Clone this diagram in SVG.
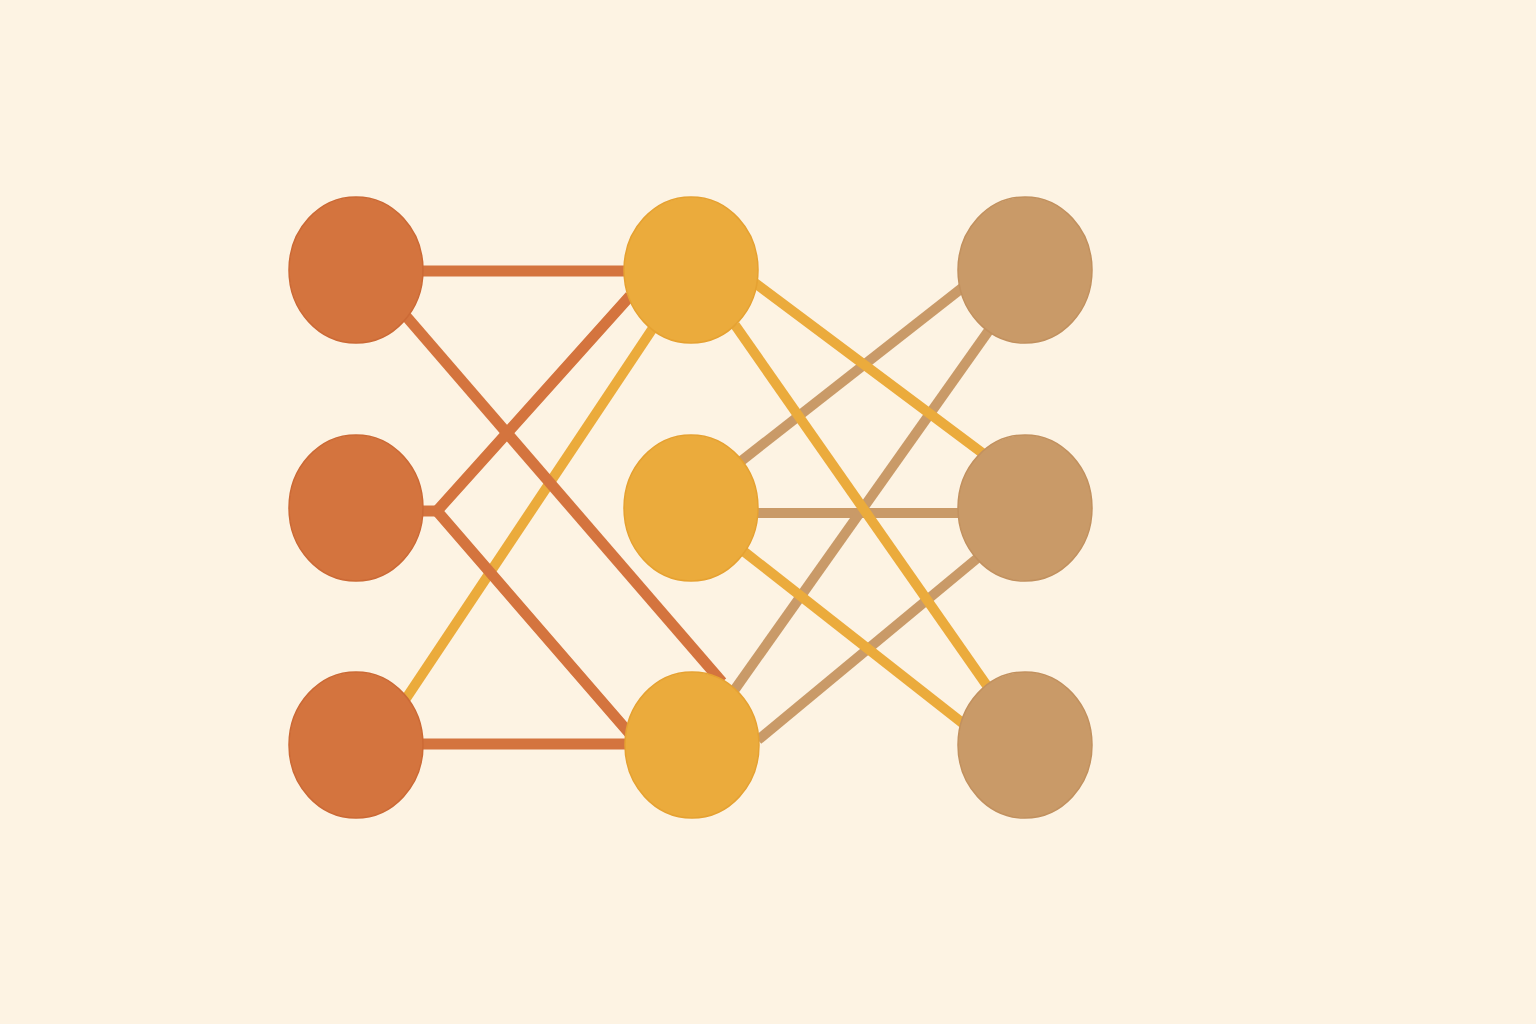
<svg xmlns="http://www.w3.org/2000/svg" width="1536" height="1024" viewBox="0 0 1536 1024">
<style>
.bg{fill:#FDF3E3}
.c line,.c polyline{fill:none;stroke-linecap:butt;stroke-linejoin:miter}
.o{stroke:#D4743E;stroke-width:11}
.y{stroke:#EBAB3C;stroke-width:10}
.t{stroke:#C99A68;stroke-width:10}
.no{fill:#D4743E;stroke:#CC6A36;stroke-width:1.5}
.ny{fill:#EBAB3C;stroke:#E6A232;stroke-width:1.5}
.nt{fill:#C99A68;stroke:#C2915F;stroke-width:1.5}
</style>
<rect class="bg" x="0" y="0" width="1536" height="1024"/>
<g id="connectors" class="c">
<line class="t" x1="740" y1="462" x2="962" y2="288"/>
<line class="t" x1="758" y1="513" x2="960" y2="513"/>
<line class="t" x1="733" y1="692" x2="992" y2="326"/>
<line class="t" x1="758" y1="740" x2="980" y2="556"/>
<line class="y" x1="655" y1="325" x2="405" y2="700"/>
<line class="y" x1="755" y1="283" x2="985" y2="455"/>
<line class="y" x1="735" y1="325" x2="990" y2="690"/>
<line class="y" x1="742" y1="550" x2="965" y2="725"/>
<line class="o" x1="420" y1="271" x2="628" y2="271"/>
<line class="o" x1="405" y1="315" x2="722" y2="682"/>
<polyline class="o" points="630,296 437,511 630,734"/>
<line class="o" x1="420" y1="511" x2="437" y2="511"/>
<line class="o" x1="420" y1="744" x2="628" y2="744"/>
</g>
<g id="L1"><ellipse class="no" cx="356" cy="270" rx="67" ry="73"/></g>
<g id="L2"><ellipse class="no" cx="356" cy="508" rx="67" ry="73"/></g>
<g id="L3"><ellipse class="no" cx="356" cy="745" rx="67" ry="73"/></g>
<g id="M1"><ellipse class="ny" cx="691" cy="270" rx="67" ry="73"/></g>
<g id="M2"><ellipse class="ny" cx="691" cy="508" rx="67" ry="73"/></g>
<g id="M3"><ellipse class="ny" cx="692" cy="745" rx="67" ry="73"/></g>
<g id="R1"><ellipse class="nt" cx="1025" cy="270" rx="67" ry="73"/></g>
<g id="R2"><ellipse class="nt" cx="1025" cy="508" rx="67" ry="73"/></g>
<g id="R3"><ellipse class="nt" cx="1025" cy="745" rx="67" ry="73"/></g>
</svg>
